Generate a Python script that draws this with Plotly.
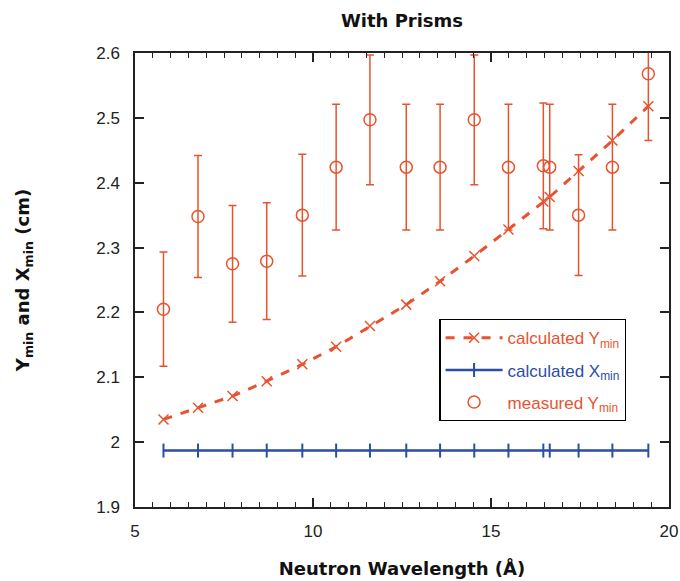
import plotly.graph_objects as go

wavelength = [5.8, 6.77, 7.74, 8.7, 9.7, 10.65, 11.6, 12.62, 13.57, 14.53,
              15.49, 16.47, 16.65, 17.46, 18.41, 19.42]
calc_y = [2.035, 2.053, 2.071, 2.094, 2.120, 2.147, 2.179, 2.212, 2.248, 2.287,
          2.328, 2.371, 2.378, 2.418, 2.465, 2.518]
calc_x = [1.987] * 16
meas_y = [2.205, 2.348, 2.275, 2.279, 2.350, 2.424, 2.497, 2.424, 2.424, 2.497,
          2.424, 2.426, 2.424, 2.350, 2.424, 2.568]
meas_err = [0.088, 0.094, 0.090, 0.090, 0.094, 0.097, 0.100, 0.097, 0.097, 0.100,
            0.097, 0.097, 0.097, 0.093, 0.097, 0.103]

ORANGE = "#E8532F"
BLUE = "#2B4DA8"

fig = go.Figure()
fig.add_trace(go.Scatter(
    x=wavelength, y=calc_y, mode="lines+markers", legendgroup="a",
    name=f'<span style="color:{ORANGE}">calculated Y<sub>min</sub></span>',
    line=dict(color=ORANGE, width=3, dash="dash"),
    marker=dict(symbol="x-thin-open", size=10, line=dict(color=ORANGE, width=1.5)),
))
fig.add_trace(go.Scatter(
    x=wavelength, y=calc_x, mode="lines+markers", legendgroup="b",
    name=f'<span style="color:{BLUE}">calculated X<sub>min</sub></span>',
    line=dict(color=BLUE, width=2.5),
    marker=dict(symbol="line-ns-open", size=10, line=dict(color=BLUE, width=2)),
))
fig.add_trace(go.Scatter(
    x=wavelength, y=meas_y, mode="markers", legendgroup="c",
    name=f'<span style="color:{ORANGE}">measured Y<sub>min</sub></span>',
    marker=dict(symbol="circle-open", size=12, color=ORANGE, line=dict(color=ORANGE, width=1.5)),
    error_y=dict(type="data", array=meas_err, visible=True, color=ORANGE, thickness=1.5, width=4),
))

fig.update_layout(
    width=680, height=581,
    margin=dict(l=135, r=11, t=53, b=74, autoexpand=False),
    paper_bgcolor="white", plot_bgcolor="white",
    font=dict(family="Liberation Sans, Arial, sans-serif", size=17, color="#222"),
    title=dict(text="With Prisms", x=0.5, xref="paper", y=0.964, yanchor="middle",
               automargin=False,
               font=dict(family="DejaVu Sans", size=18, weight="bold", color="#111")),
    showlegend=True,
    legend=dict(x=0.57, y=0.414, xanchor="left", yanchor="top",
                bordercolor="black", borderwidth=1.2, bgcolor="white",
                font=dict(size=17), tracegroupgap=7, traceorder="grouped",
                itemwidth=57),
)
fig.update_xaxes(
    range=[5, 20], dtick=5, ticks="inside", ticklen=9, tickwidth=1.5, tickcolor="#222",
    showline=True, linecolor="#222", linewidth=1.5, mirror="ticks",
    showgrid=False, zeroline=False, ticklabelstandoff=8, automargin=False,
    minor=dict(dtick=0.5, ticks="inside", ticklen=5, tickwidth=1.2, tickcolor="#222", showgrid=False),
    title=dict(text="Neutron Wavelength (Å)", standoff=22,
               font=dict(family="DejaVu Sans", size=18, weight="bold", color="#111")),
)
fig.update_yaxes(
    range=[1.9, 2.6], dtick=0.1, ticks="inside", ticklen=9, tickwidth=1.5, tickcolor="#222",
    showline=True, linecolor="#222", linewidth=1.5, mirror="ticks",
    showgrid=False, zeroline=False, ticklabelstandoff=10, automargin=False,
    title=dict(text="Y<sub>min</sub> and X<sub>min</sub> (cm)", standoff=62,
               font=dict(family="DejaVu Sans", size=18, weight="bold", color="#111")),
)

fig.write_html("out.html", config={"displayModeBar": False},
               post_script="document.body.style.margin='0';")
